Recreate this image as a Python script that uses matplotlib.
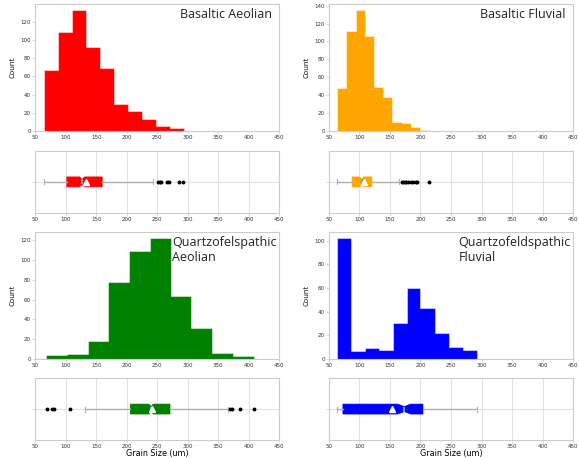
import matplotlib.pyplot as plt

# histogram bin edges (um) and counts
ba_edges = [65, 88, 111, 134, 157, 180, 202, 225, 248, 271, 294]
ba_counts = [67, 109, 133, 93, 69, 30, 22, 13, 5, 3]
bf_edges = [63, 78, 94, 109, 124, 139, 154, 169, 184, 199, 214]
bf_counts = [48, 112, 135, 106, 49, 38, 10, 9, 4, 1]
qa_edges = [68, 102, 136, 170, 204, 238, 272, 306, 340, 374, 408]
qa_counts = [4, 5, 18, 78, 109, 122, 64, 31, 6, 3]
qf_edges = [63, 86, 109, 132, 155, 178, 200, 223, 246, 269, 292]
qf_counts = [102, 7, 9, 8, 30, 60, 43, 22, 10, 8]

# box summaries: whisker low, q1, median, q3, whisker high, mean, notch low, notch high
ba_box = [65, 102, 127, 160, 243, 134, 123, 131]
ba_fliers = [252, 255, 257, 266, 270, 285, 293]
bf_box = [63, 88, 103.5, 120.5, 165, 108, 100.5, 106.5]
bf_fliers = [170, 172, 174, 176, 180, 184, 187, 192, 195, 214]
qa_box = [132, 206, 240, 271, 366, 241, 236.5, 243.5]
qa_fliers = [69, 78, 81, 108, 370, 372, 386, 408]
qf_box = [63, 73, 173.5, 204, 292, 153, 163, 184]
qf_fliers = []

names = ['Basaltic Aeolian', 'Basaltic Fluvial',
         'Quartzofelspathic\nAeolian', 'Quartzofeldspathic\nFluvial']
colors = ['red', 'orange', 'green', 'blue']
xticks = [50, 100, 150, 200, 250, 300, 350, 400, 450]

panels = [
    (ba_edges, ba_counts, ba_box, ba_fliers),
    (bf_edges, bf_counts, bf_box, bf_fliers),
    (qa_edges, qa_counts, qa_box, qa_fliers),
    (qf_edges, qf_counts, qf_box, qf_fliers),
]

# axes placement in figure fractions: (left, hist bottom, box bottom)
lefts = [0.0605, 0.568, 0.0605, 0.568]
hist_bottoms = [0.714, 0.714, 0.2162, 0.2162]
box_bottoms = [0.535, 0.535, 0.0390, 0.0390]
width = 0.422
hist_h = 0.277
box_h = 0.1357

spine_col = '#cccccc'
tick_col = '#333333'

fig = plt.figure(figsize=(5.79, 4.58), dpi=100)

for i, (edges, counts, box, fliers) in enumerate(panels):
    col = colors[i]

    # histogram
    ax = fig.add_axes([lefts[i], hist_bottoms[i], width, hist_h])
    ax.hist(edges[:-1], bins=edges, weights=counts, histtype='stepfilled',
            facecolor=col, edgecolor=(1, 1, 1, 0.45), linewidth=0.8)
    ax.set_xlim(50, 450)
    ax.set_xticks(xticks)
    ax.set_ylabel('Count', fontsize=5.5, family='Open Sans', labelpad=3)
    ax.tick_params(labelsize=4, length=2, width=0.5, color=spine_col,
                   labelcolor=tick_col, pad=1)
    for s in ax.spines.values():
        s.set_color(spine_col)
        s.set_linewidth(0.8)
    if i < 2:
        ax.text(0.97, 0.97, names[i], transform=ax.transAxes, ha='right', va='top',
                fontsize=9, family='Open Sans', color='#222222')
    else:
        xpos = 275 if i == 2 else 262
        ax.text(xpos, 0.97, names[i], transform=ax.get_xaxis_transform(),
                ha='left', va='top', fontsize=9, family='Open Sans',
                color='#222222', linespacing=1.25)

    # notched box plot
    bx = fig.add_axes([lefts[i], box_bottoms[i], width, box_h])
    stats = [dict(whislo=box[0], q1=box[1], med=box[2], q3=box[3], whishi=box[4],
                  mean=box[5], cilo=box[6], cihi=box[7], fliers=fliers)]
    bx.bxp(stats, orientation='horizontal', shownotches=True, showmeans=True,
           patch_artist=True, widths=0.16,
           boxprops=dict(facecolor=col, edgecolor=col, linewidth=0.5),
           medianprops=dict(color='#20c4d4', linewidth=1.5),
           meanprops=dict(marker='^', markerfacecolor='white',
                          markeredgecolor='white', markersize=4),
           whiskerprops=dict(color='#b0b0b0', linewidth=1),
           capprops=dict(color='#b0b0b0', linewidth=0.8),
           flierprops=dict(marker='o', markerfacecolor='black',
                           markeredgecolor='black', markersize=1.8))
    bx.set_xlim(50, 450)
    bx.set_ylim(0.5, 1.5)
    bx.set_xticks(xticks)
    bx.set_yticks([1])
    bx.set_yticklabels([''])
    bx.set_axisbelow(True)
    bx.grid(True, color='#e2e2e2', linewidth=0.8)
    bx.tick_params(labelsize=4, length=2, width=0.5, color=spine_col,
                   labelcolor=tick_col, pad=1)
    for s in bx.spines.values():
        s.set_color(spine_col)
        s.set_linewidth(0.8)
    if i >= 2:
        bx.set_xlabel('Grain Size (um)', fontsize=5.8, labelpad=0)

fig.savefig('out.png', dpi=100)
